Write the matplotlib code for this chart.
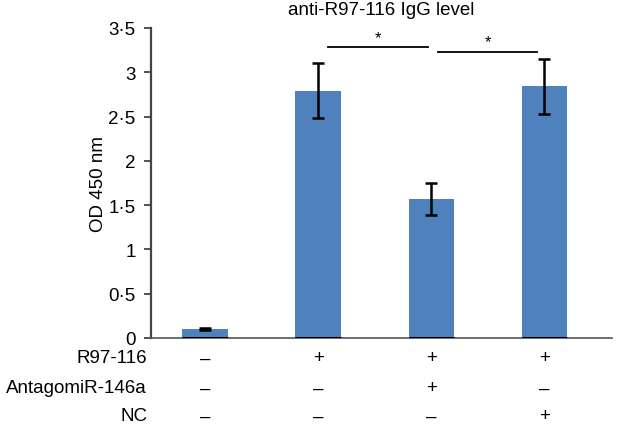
import matplotlib
matplotlib.use("Agg")
import matplotlib.pyplot as plt
import numpy as np

plt.rcParams['font.family'] = ['Liberation Sans', 'DejaVu Sans']

groups = ["G1", "G2", "G3", "G4"]
values = [0.10, 2.79, 1.57, 2.84]
errors = [0.015, 0.31, 0.18, 0.31]
row_labels = ["R97-116", "AntagomiR-146a", "NC"]
row_marks = [["–", "+", "+", "+"],
             ["–", "–", "+", "–"],
             ["–", "–", "–", "+"]]
yticks = [0, 0.5, 1, 1.5, 2, 2.5, 3, 3.5]
ytick_labels = ["0", "0·5", "1", "1·5", "2", "2·5", "3", "3·5"]
sig_pairs = [(1, 2, 3.28), (2, 3, 3.23)]
title = "anti-R97-116 IgG level"
ylabel = "OD 450 nm"

FS = 13.5

fig = plt.figure(figsize=(6.17, 4.31), dpi=100)
ax = fig.add_axes([151/617, 1-339/431, (612-151)/617, (339-29)/431])

x = np.arange(len(groups))
w = 0.40
ax.bar(x, values, width=w, color="#4f81bd", zorder=2)
ax.errorbar(x, values, yerr=errors, fmt="none", ecolor="black", elinewidth=1.8,
            capsize=4, capthick=1.8, zorder=3)
ax.hlines([0]*len(x), x - w/2, x + w/2, color="black", lw=2.2, zorder=4)

ax.set_xlim(-0.478, 3.6)
ax.set_ylim(0, 3.5)
ax.set_yticks(yticks)
ax.set_yticklabels(ytick_labels, fontsize=FS)
ax.set_xticks([])
for s in ["top", "right"]:
    ax.spines[s].set_visible(False)
ax.spines["left"].set_color("#444444")
ax.spines["left"].set_linewidth(1.6)
ax.spines["bottom"].set_color("#555555")
ax.spines["bottom"].set_linewidth(1.2)
ax.tick_params(axis="y", length=5, width=1.3, color="#444444", pad=6)
ax.set_ylabel(ylabel, fontsize=FS, labelpad=1)
ax.set_title(title, fontsize=FS, pad=10)

for i, j, h in sig_pairs:
    x0 = x[i] + 0.09 if i == 1 else x[i] + 0.06
    x1 = x[j] - 0.03 if i == 1 else x[j] - 0.06
    ax.plot([x0, x1], [h, h], color="black", lw=1.3, clip_on=False)
    ax.text((x0 + x1) / 2, h + 0.03, "*", ha="center", va="bottom", fontsize=12)

trans = matplotlib.transforms.blended_transform_factory(ax.transData, fig.transFigure)
row_y = [1-359/431, 1-389/431, 1-417/431]
for r, lab in enumerate(row_labels):
    fig.text(147/617, row_y[r], lab, ha="right", va="center", fontsize=FS)
    for k in range(len(groups)):
        ax.text(x[k], row_y[r], row_marks[r][k], transform=trans, ha="center",
                va="center", fontsize=FS)

fig.savefig("out.png", dpi=100)
